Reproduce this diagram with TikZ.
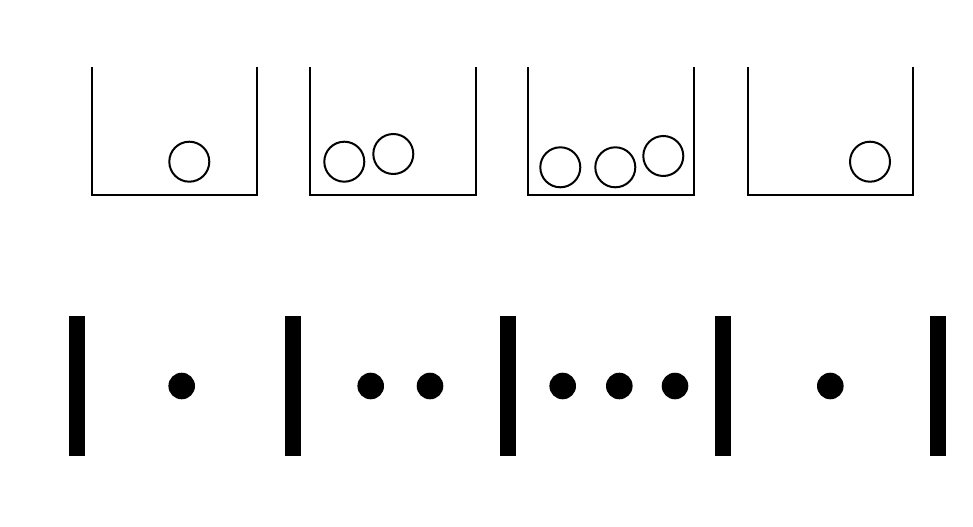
\documentclass[tikz,border=0pt]{standalone}
\begin{document}
\begin{tikzpicture}[x=0.75pt,y=-0.75pt,
  cup/.style={line width=1.5pt,line join=miter},
  ball/.style={line width=1.5pt},
  bar/.style={fill=black},
  dot/.style={fill=black}]
\useasboundingbox (0,0) rectangle (973,527);
% cups
\draw[cup] (91.7,67) -- (91.7,195) -- (256.7,195) -- (256.7,67);
\draw[cup] (310,67) -- (310,195) -- (476,195) -- (476,67);
\draw[cup] (528.3,67) -- (528.3,195) -- (694.3,195) -- (694.3,67);
\draw[cup] (747.7,67) -- (747.7,195) -- (913.3,195) -- (913.3,67);
% balls
\draw[ball] (189.3,161.7) circle (20);
\draw[ball] (344.3,161.7) circle (20);
\draw[ball] (393.3,154) circle (20);
\draw[ball] (560.3,167.3) circle (20);
\draw[ball] (615.3,167.3) circle (20);
\draw[ball] (663.3,156) circle (20);
\draw[ball] (870,161.7) circle (20);
% bars
\foreach \x in {77.3,292.8,507.5,723,938.3}
  \fill[bar] (\x-8,316) rectangle (\x+8,455.7);
% dots
\foreach \x in {181.7,370.7,430,562.7,619.3,675,830.3}
  \fill[dot] (\x,386) circle (13.3);
\end{tikzpicture}
\end{document}
